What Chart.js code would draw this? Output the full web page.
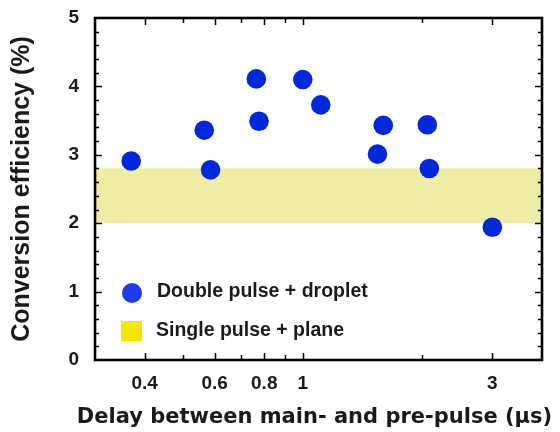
<!DOCTYPE html>
<html>
<head>
<meta charset="utf-8">
<script src="https://cdn.jsdelivr.net/npm/chart.js@4/dist/chart.umd.min.js"></script>
<style>
  html, body { margin: 0; padding: 0; background: #fff; }
  #wrap { position: relative; width: 560px; height: 432px; }
  #legend { position: absolute; left: 0; top: 0; font-family: "Liberation Sans", Arial, sans-serif; font-weight: bold; font-size: 19.5px; color: #1a1a1a; }
  .item { position: absolute; white-space: nowrap; line-height: 20px; }
  .dot { position: absolute; width: 20px; height: 20px; border-radius: 50%; background: #1e3ce8; }
  .sq { position: absolute; width: 21px; height: 20px; background: #f5e600; }
</style>
</head>
<body>
<div id="wrap">
  <canvas id="c" width="560" height="432"></canvas>
  <div id="legend">
    <div class="dot" style="left:122px; top:283px;"></div>
    <div class="item" style="left:157px; top:280px;">Double pulse + droplet</div>
    <div class="sq" style="left:121px; top:321px;"></div>
    <div class="item" style="left:156px; top:319px;">Single pulse + plane</div>
  </div>
</div>
<script>
// Data
const delays = [0.370, 0.565, 0.586, 0.764, 0.776, 1.0, 1.110, 1.542, 1.594, 2.058, 2.082, 3.0];
const efficiency = [2.91, 3.36, 2.78, 4.11, 3.49, 4.10, 3.73, 3.01, 3.43, 3.44, 2.80, 1.94];
const bandLow = 2.0;
const bandHigh = 2.8;
const xRange = [0.3, 4];
const yRange = [0, 5];
const xTickValues = [0.4, 0.5, 0.6, 0.7, 0.8, 0.9, 1, 2, 3];
const xTickLabels = [0.4, 0.6, 0.8, 1, 3];
const yMinorStep = 0.2;
const xTitle = 'Delay between main- and pre-pulse (μs)';
const yTitle = 'Conversion efficiency (%)';

const ARIAL = '"Liberation Sans", Arial, sans-serif';
const WIDE = '"DejaVu Sans", sans-serif';
const TXT = '#1a1a1a';

const framePlugin = {
  id: 'frame',
  afterDatasetsDraw(chart) {
    const {ctx, chartArea: a, scales: {x, y}} = chart;
    ctx.save();
    ctx.strokeStyle = '#000';
    ctx.lineWidth = 1.5;
    const nY = Math.round((yRange[1] - yRange[0]) / yMinorStep);
    for (let i = 1; i < nY; i++) {
      const v = yRange[0] + i * yMinorStep;
      const py = Math.round(y.getPixelForValue(v)) + 0.5;
      const major = Math.abs(v - Math.round(v)) < 1e-6;
      const len = major ? 7 : 4;
      ctx.beginPath();
      ctx.moveTo(a.left, py); ctx.lineTo(a.left + len, py);
      ctx.moveTo(a.right, py); ctx.lineTo(a.right - len, py);
      ctx.stroke();
    }
    xTickValues.forEach(v => {
      const px = Math.round(x.getPixelForValue(v)) + 0.5;
      const major = xTickLabels.includes(v);
      const len = major ? 7 : 5;
      ctx.beginPath();
      ctx.moveTo(px, a.top); ctx.lineTo(px, a.top + len);
      ctx.moveTo(px, a.bottom); ctx.lineTo(px, a.bottom - len);
      ctx.stroke();
    });
    ctx.lineWidth = 2.6;
    ctx.strokeRect(a.left, a.top, a.right - a.left, a.bottom - a.top);
    ctx.restore();
  },
  afterDraw(chart) {
    // x-axis title, drawn without Chart.js's width clamp
    const {ctx, chartArea: a, scales: {x}} = chart;
    ctx.save();
    ctx.font = 'bold 21px ' + WIDE;
    ctx.fillStyle = TXT;
    ctx.textAlign = 'center';
    ctx.textBaseline = 'alphabetic';
    ctx.fillText(xTitle, (a.left + a.right) / 2 - 4, x.bottom - 8.7);
    ctx.restore();
  }
};

new Chart(document.getElementById('c'), {
  type: 'scatter',
  data: {
    datasets: [
      {
        label: 'Double pulse + droplet',
        data: delays.map((d, i) => ({x: d, y: efficiency[i]})),
        backgroundColor: '#0028d8',
        borderColor: '#0028d8',
        borderWidth: 0,
        pointRadius: 9.8,
        pointHoverRadius: 9.8,
        order: 0
      },
      {
        label: 'Single pulse + plane',
        type: 'line',
        data: [{x: xRange[0], y: bandHigh}, {x: xRange[1], y: bandHigh}],
        borderWidth: 0,
        borderColor: 'rgba(0,0,0,0)',
        backgroundColor: '#eeeca5',
        pointRadius: 0,
        fill: {value: bandLow},
        order: 1
      }
    ]
  },
  options: {
    responsive: false,
    animation: false,
    events: [],
    layout: { padding: { top: 18, right: 18, left: 0, bottom: 0 } },
    plugins: { legend: { display: false }, tooltip: { enabled: false } },
    scales: {
      x: {
        type: 'logarithmic',
        min: xRange[0],
        max: xRange[1],
        grid: { display: false },
        border: { display: false },
        afterBuildTicks(scale) { scale.ticks = xTickValues.map(v => ({value: v})); },
        afterFit(scale) { scale.height = 72; },
        ticks: {
          autoSkip: false,
          maxRotation: 0,
          padding: 4,
          color: TXT,
          font: { family: ARIAL, weight: 'bold', size: 19 },
          callback(v) { return xTickLabels.includes(v) ? String(v) : ''; }
        },
        title: { display: false }
      },
      y: {
        min: yRange[0],
        max: yRange[1],
        grid: { display: true, drawOnChartArea: false, drawTicks: true, tickLength: 14, color: 'rgba(0,0,0,0)' },
        border: { display: false },
        afterFit(scale) { scale.width = 95; },
        ticks: {
          stepSize: 1,
          padding: 2,
          color: TXT,
          font: { family: ARIAL, weight: 'bold', size: 19 }
        },
        title: {
          display: true,
          text: yTitle,
          color: TXT,
          font: { family: ARIAL, weight: 'bold', size: 25 },
          padding: { top: 7.5, bottom: 0 }
        }
      }
    }
  },
  plugins: [framePlugin]
});
</script>
</body>
</html>
